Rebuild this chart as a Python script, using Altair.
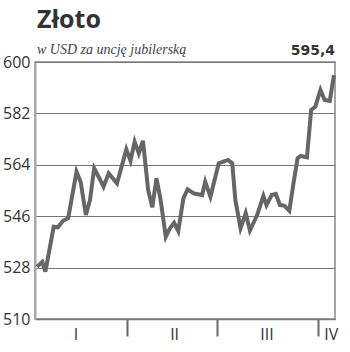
import altair as alt
import pandas as pd

# Days since start of year and gold price in USD/oz
days = [2, 7, 10, 18, 22, 27, 32, 40, 44, 49,
        53, 57, 62, 66, 71, 79, 88, 92, 96, 100,
        104, 109, 113, 117, 121, 126, 130, 134, 138, 143,
        147, 153, 161, 164, 169, 177, 186, 190, 193, 198,
        203, 207, 214, 220, 223, 228, 232, 236, 240, 245,
        249, 253, 256, 262, 266, 270, 275, 279, 284, 288]
prices = [528.3, 530.0, 526.6, 542.3, 542.1, 544.4, 545.3, 561.6, 558.0, 546.4,
          551.7, 562.8, 559.3, 556.3, 561.0, 557.5, 569.4, 565.4, 572.1, 568.0,
          572.4, 555.2, 549.1, 559.3, 551.7, 538.8, 541.8, 543.7, 540.8, 552.3,
          555.4, 554.0, 553.4, 558.1, 552.8, 564.5, 565.7, 564.5, 551.7, 541.8,
          547.1, 541.0, 546.4, 553.1, 549.9, 553.4, 553.8, 549.9, 549.7, 547.9,
          557.5, 566.3, 567.1, 566.6, 583.2, 584.3, 590.2, 586.7, 586.4, 595.4]

quarter_bounds = [89, 175, 273]
quarter_label_pos = [39, 134, 223, 285]
quarter_labels = ["I", "II", "III", "IV"]
y_ticks = [510, 528, 546, 564, 582, 600]
x_domain = [0, 289]

title_text = "Złoto"
subtitle_text = "w USD za uncję jubilerską"

df = pd.DataFrame({"day": days, "price": prices})
last_df = pd.DataFrame({"label": [f"{prices[-1]:.1f}".replace(".", ",")]})

label_expr = ""
for pos, lab in zip(quarter_label_pos, quarter_labels):
    label_expr += f"datum.value == {pos} ? '{lab}' : "
label_expr += "''"
tick_test = "indexof([" + ",".join(str(b) for b in quarter_bounds) + "], datum.value) >= 0"

x_enc = alt.X(
    "day:Q",
    scale=alt.Scale(domain=x_domain, nice=False, zero=False),
    axis=alt.Axis(
        values=quarter_bounds + quarter_label_pos,
        labelExpr=label_expr,
        title=None,
        grid=False,
        domainColor="#777",
        domainWidth=1.5,
        tickColor="#666",
        tickWidth=2,
        tickSize=17,
        tickOpacity={"condition": {"test": tick_test, "value": 1}, "value": 0},
        labelPadding=-10,
        labelFont="Open Sans",
        labelFontSize=16,
        labelColor="#333",
        labelFlush=False,
        labelOverlap=False,
    ),
)

y_enc = alt.Y(
    "price:Q",
    scale=alt.Scale(domain=[y_ticks[0], y_ticks[-1]], nice=False, zero=False),
    axis=alt.Axis(
        values=y_ticks,
        title=None,
        grid=True,
        gridColor="#777",
        gridWidth=1,
        domainColor="#aaa",
        domainWidth=2,
        ticks=False,
        labelPadding=5,
        labelFont="Open Sans",
        labelFontSize=16,
        labelColor="#333",
    ),
)

line = alt.Chart(df).mark_line(color="#666", strokeWidth=4, strokeJoin="miter").encode(
    x=x_enc, y=y_enc
)

last_text = alt.Chart(last_df).mark_text(
    align="right", baseline="alphabetic", font="DejaVu Sans", fontWeight="bold",
    fontSize=14, color="#333"
).encode(x=alt.value(300), y=alt.value(-7), text="label:N")

chart = alt.layer(line, last_text).properties(
    width=300,
    height=257,
    padding={"left": 35, "top": 62, "right": 15, "bottom": 33},
    autosize=alt.AutoSizeParams(type="none"),
    title=alt.TitleParams(
        text=title_text,
        subtitle=subtitle_text,
        anchor="start",
        frame="group",
        dx=2,
        offset=-13,
        font="Open Sans",
        fontSize=25,
        fontWeight="bold",
        color="#333",
        subtitleFont="Liberation Serif",
        subtitleFontStyle="italic",
        subtitleFontSize=14,
        subtitleColor="#444",
        subtitlePadding=10,
    ),
).configure_view(stroke="#888", strokeWidth=1.5)

chart.save("out.html", embed_options={"renderer": "svg", "actions": False})
